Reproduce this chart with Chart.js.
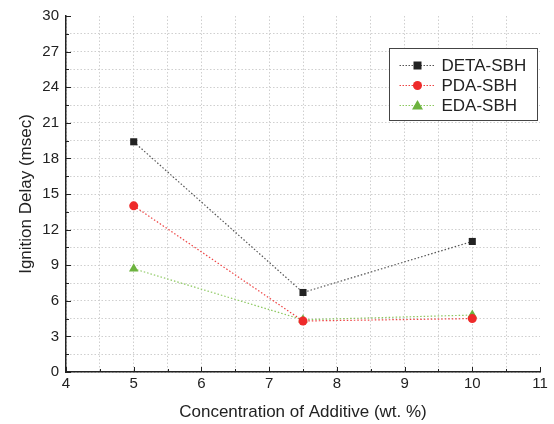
<!DOCTYPE html>
<html>
<head>
<meta charset="utf-8">
<script src="https://cdn.jsdelivr.net/npm/chart.js@4.4.0/dist/chart.umd.min.js"></script>
<style>
  html, body { margin: 0; padding: 0; background: #fff; }
  #wrap { width: 554px; height: 424px; }
</style>
</head>
<body>
<div id="wrap"><canvas id="myChart" width="554" height="424"></canvas></div>
<script>
// data
const concentration = [5, 7.5, 10];
const detaSbh = [19.4, 6.7, 11.0];
const pdaSbh = [14.0, 4.3, 4.5];
const edaSbh = [8.7, 4.4, 4.8];
const seriesNames = ['DETA-SBH', 'PDA-SBH', 'EDA-SBH'];

const FONT = '"Liberation Sans", Arial, sans-serif';

function toPoints(ys) {
    return concentration.map((x, i) => ({ x: x, y: ys[i] }));
}

// inward tick marks (major + minor), like the original plot
const tickMarks = {
    id: 'tickMarks',
    afterDraw(chart) {
        const c = chart.ctx;
        const xs = chart.scales.x, ys = chart.scales.y;
        const a = chart.chartArea;
        c.save();
        c.strokeStyle = '#222';
        c.lineWidth = 1;
        c.beginPath();
        for (let v = 4; v <= 11.001; v += 0.5) {
            const px = Math.round(xs.getPixelForValue(v)) + 0.5;
            const len = Math.abs(v - Math.round(v)) < 0.01 ? 5 : 3;
            c.moveTo(px, a.bottom);
            c.lineTo(px, a.bottom - len);
        }
        for (let v = 0; v <= 30.001; v += 1.5) {
            const py = Math.round(ys.getPixelForValue(v)) + 0.5;
            const len = Math.abs(v / 3 - Math.round(v / 3)) < 0.01 ? 5 : 3;
            c.moveTo(a.left, py);
            c.lineTo(a.left + len, py);
        }
        c.stroke();
        c.restore();
    }
};

// boxed legend with a dotted line through each marker
const boxLegend = {
    id: 'boxLegend',
    afterDraw(chart) {
        const c = chart.ctx;
        const bx = 389.5, by = 48.5, bw = 148, bh = 72;
        c.save();
        c.fillStyle = '#fff';
        c.fillRect(bx, by, bw, bh);
        c.strokeStyle = '#444';
        c.lineWidth = 1;
        c.strokeRect(bx, by, bw, bh);
        chart.data.datasets.forEach((ds, i) => {
            const cy = by + 17 + i * 20;
            c.strokeStyle = ds.borderColor;
            c.setLineDash([1.5, 1.5]);
            c.beginPath();
            c.moveTo(bx + 10, cy);
            c.lineTo(bx + 46, cy);
            c.stroke();
            c.setLineDash([]);
            c.fillStyle = ds.pointBackgroundColor;
            const mx = bx + 28;
            if (ds.pointStyle === 'rect') {
                c.fillRect(mx - 4, cy - 4, 8, 8);
            } else if (ds.pointStyle === 'circle') {
                c.beginPath();
                c.arc(mx, cy, 4.5, 0, Math.PI * 2);
                c.fill();
            } else {
                c.beginPath();
                c.moveTo(mx, cy - 5.5);
                c.lineTo(mx + 5.5, cy + 4);
                c.lineTo(mx - 5.5, cy + 4);
                c.closePath();
                c.fill();
            }
            c.fillStyle = '#222';
            c.font = '17px ' + FONT;
            c.textBaseline = 'middle';
            c.fillText(ds.label, bx + 52, cy + 1);
        });
        c.restore();
    }
};

const ctx = document.getElementById('myChart').getContext('2d');
const chart = new Chart(ctx, {
    type: 'line',
    data: {
        datasets: [{
            label: seriesNames[0],
            data: toPoints(detaSbh),
            borderColor: '#555',
            borderWidth: 1.2,
            borderDash: [1.5, 2],
            pointStyle: 'rect',
            pointRadius: 5,
            pointBackgroundColor: '#222',
            pointBorderColor: '#222',
            pointBorderWidth: 0
        }, {
            label: seriesNames[1],
            data: toPoints(pdaSbh),
            borderColor: '#ee4444',
            borderWidth: 1.2,
            borderDash: [1.5, 2],
            pointStyle: 'circle',
            pointRadius: 4.5,
            pointBackgroundColor: '#ee2a2a',
            pointBorderColor: '#ee2a2a',
            pointBorderWidth: 0
        }, {
            label: seriesNames[2],
            data: toPoints(edaSbh),
            borderColor: '#8cc860',
            borderWidth: 1.2,
            borderDash: [1.5, 2],
            pointStyle: 'triangle',
            pointRadius: 5.5,
            pointBackgroundColor: '#6db33f',
            pointBorderColor: '#6db33f',
            pointBorderWidth: 0
        }]
    },
    options: {
        responsive: false,
        animation: false,
        layout: { padding: { top: 14, right: 14, left: 12, bottom: 0 } },
        plugins: {
            legend: { display: false },
            tooltip: { enabled: false }
        },
        scales: {
            x: {
                type: 'linear',
                min: 4,
                max: 11,
                afterFit: s => { s.height = 52; },
                ticks: {
                    stepSize: 0.5,
                    autoSkip: false,
                    maxRotation: 0,
                    color: '#222',
                    padding: 3,
                    font: { family: FONT, size: 15 },
                    callback: v => Number.isInteger(v) ? v : ''
                },
                grid: {
                    drawTicks: false,
                    color: ctx => (ctx.tick && ctx.tick.value >= 11) ? 'rgba(0,0,0,0)' : '#cfcfcf',
                    lineWidth: 1
                },
                border: { display: true, color: '#222', width: 1.5, dash: [1.5, 2] },
                title: {
                    display: true,
                    text: 'Concentration of Additive (wt. %)',
                    color: '#222',
                    font: { family: FONT, size: 17 },
                    padding: { top: 4, bottom: 1 }
                }
            },
            y: {
                min: 0,
                max: 30,
                afterFit: s => { s.width = 54; },
                ticks: {
                    stepSize: 1.5,
                    autoSkip: false,
                    color: '#222',
                    padding: 7,
                    font: { family: FONT, size: 15 },
                    callback: v => (Math.abs(v / 3 - Math.round(v / 3)) < 0.001) ? Math.round(v) : ''
                },
                grid: {
                    drawTicks: false,
                    color: ctx => (ctx.tick && ctx.tick.value >= 30) ? 'rgba(0,0,0,0)' : '#cfcfcf',
                    lineWidth: 1
                },
                border: { display: true, color: '#222', width: 1.5, dash: [1.5, 2] },
                title: {
                    display: true,
                    text: 'Ignition Delay (msec)',
                    color: '#222',
                    font: { family: FONT, size: 17 },
                    padding: { bottom: 2 }
                }
            }
        }
    },
    plugins: [tickMarks, boxLegend]
});
</script>
</body>
</html>
